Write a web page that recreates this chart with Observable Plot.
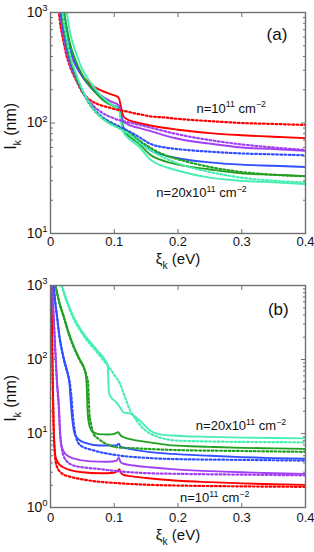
<!DOCTYPE html>
<html><head><meta charset="utf-8">
<script src="https://cdn.jsdelivr.net/npm/d3@7"></script>
<script src="https://cdn.jsdelivr.net/npm/@observablehq/plot@0.6"></script>
<style>
html,body{margin:0;padding:0;background:#fff;}
body{width:314px;height:552px;overflow:hidden;font-family:"Liberation Sans",Arial,Helvetica,sans-serif;}
svg{display:block;}
</style></head><body><div id="chart"></div>
<script>
// ---------- shared ----------
const seriesNames = ["n=1", "n=5", "n=10", "n=15", "n=20"];
const seriesColors = ["#ff0000", "#a23ff2", "#3050ff", "#22a022", "#48efb2"];
const xTicks = [0, 0.1, 0.2, 0.3, 0.4];
const xTickLabels = ["0", "0.1", "0.2", "0.3", "0.4"];

// ---------- panel (a) ----------
const xA = [0.012, 0.014, 0.016, 0.018, 0.02, 0.025, 0.03, 0.04, 0.05, 0.06, 0.07, 0.08, 0.09, 0.1, 0.105, 0.108, 0.111, 0.114, 0.12, 0.13, 0.14, 0.156, 0.18, 0.2, 0.25, 0.3, 0.35, 0.4];
const aRedSolid    = [1800,1300,1000,850,720,540,440,330,265,232,210,196,186,178,173,163,136,116,108,103,99.5,95,90,87,81,77.5,75,73];
const aRedDot      = [1150,900,740,640,560,410,330,245,190,165,152,144,139,134,132,131,130,129,127,123,120,115,112,109,104,100,98,96];
const aPurpleSolid = [2200,1700,1300,1050,880,610,460,330,262,222,196,176,162,152,148,141,118,104,98,93,90,85,77,72,65,60,58,56];
const aPurpleDot   = [1400,1100,900,760,640,450,350,250,195,160,138,125,116,110,107,106,105,104,102,99,96,91,84,79,70,64,60,57];
const aBlueSolid   = [2600,2000,1550,1250,1020,680,500,340,265,220,190,168,153,143,139,132,110,92,84,76,68,57,51,48,44,42,41,40];
const aBlueDot     = [1600,1250,1000,850,720,500,380,260,195,155,130,115,105,98,95,93,91,89,86,80,74,65,60,58,55,53,52,51];
const aGreenSolid  = [3000,2300,1800,1450,1180,760,540,360,272,222,190,166,150,141,137,130,105,88,79,71,64,52,45,42,38,35,34,33];
const aGreenDot    = [1800,1400,1150,950,800,540,400,265,195,152,127,112,102,95,92,90,88,86,83,76,69,60,51,47,40,36,34,33];
const aAquaSolid   = [3600,2800,2200,1750,1450,1050,690,430,305,245,205,175,155,142,137,128,100,84,75,67,60,47,40,37,32,30,29,28];
const aAquaDot     = [2200,1700,1350,1100,900,600,430,280,200,155,128,112,101,94,91,89,87,85,82,74,66,57,48,43,36,32,30,29];
const yTicksA = [10, 100, 1000];
const yTickLabelsA = ["10^{1}", "10^{2}", "10^{3}"];
const yMinorA = [20,30,40,50,60,70,80,90,200,300,400,500,600,700,800,900];
const notesA = [
  {x: 0.229, y: 124, text: "n=10^{11} cm^{\u22122}"},
  {x: 0.166, y: 21.2, text: "n=20x10^{11} cm^{\u22122}"}
];
const tagA = [{x: 0.339, y: 565, text: "(a)"}];

// ---------- panel (b) ----------
const bRedSolidX    = [0.0015,0.002,0.003,0.004,0.005,0.006,0.0078,0.01,0.0156,0.02,0.031,0.05,0.078,0.1,0.105,0.108,0.111,0.115,0.125,0.15,0.2,0.25,0.3,0.35,0.4];
const bRedSolidY    = [1000,500,100,30,12,7.5,4.9,4.3,3.7,3.5,3.2,3.0,2.9,2.95,3.1,3.3,2.9,2.75,2.65,2.5,2.3,2.2,2.12,2.06,2.02];
const bRedDotX      = [0.0015,0.002,0.003,0.004,0.005,0.006,0.0078,0.01,0.0156,0.02,0.031,0.05,0.078,0.1,0.15,0.2,0.3,0.4];
const bRedDotY      = [1000,500,100,30,11,6.5,4.3,3.6,3.0,2.8,2.6,2.4,2.22,2.15,2.03,1.98,1.93,1.9];
const bPurpleSolidX = [0.0026,0.004,0.006,0.008,0.0104,0.013,0.0145,0.0156,0.018,0.023,0.036,0.0625,0.09,0.104,0.107,0.11,0.115,0.13,0.156,0.19,0.25,0.3,0.35,0.4];
const bPurpleSolidY = [1000,550,250,110,47,25,13,8.5,6.5,5.3,4.6,4.2,4.15,4.3,4.7,4.1,3.9,3.7,3.5,3.3,3.1,3.0,2.9,2.85];
const bPurpleDotX   = [0.0026,0.004,0.006,0.008,0.0104,0.013,0.0145,0.0156,0.018,0.023,0.036,0.05,0.078,0.104,0.156,0.2,0.3,0.4];
const bPurpleDotY   = [1000,550,250,110,45,22,12,9,6,4.5,3.7,3.5,3.3,3.1,2.9,2.85,2.78,2.72];
const bBlueSolidX   = [0.005,0.007,0.0104,0.014,0.018,0.022,0.026,0.03,0.032,0.034,0.039,0.052,0.078,0.104,0.107,0.11,0.12,0.156,0.19,0.25,0.3,0.35,0.4];
const bBlueSolidY   = [1000,650,378,210,134,95,71,45,25,16,9.4,7.6,6.9,6.9,7.3,6.6,6.3,5.6,5.3,5.0,4.8,4.65,4.55];
const bBlueDotX     = [0.005,0.007,0.0104,0.014,0.018,0.022,0.026,0.03,0.033,0.035,0.0365,0.04,0.047,0.068,0.104,0.156,0.2,0.3,0.4];
const bBlueDotY     = [1000,650,370,200,130,90,68,50,30,18,13.6,9,6.9,5.9,5.1,4.65,4.5,4.4,4.3];
const bGreenSolidX  = [0.008,0.013,0.021,0.029,0.039,0.046,0.052,0.0555,0.057,0.058,0.06,0.065,0.075,0.09,0.1,0.106,0.11,0.115,0.13,0.156,0.19,0.25,0.3,0.35,0.4];
const bGreenSolidY  = [1000,630,378,224,134,100,80,62,40,22,14,10.8,9.8,9.7,9.9,10.4,9.4,8.9,8.2,7.6,6.9,6.6,6.4,6.3,6.2];
const bGreenDotX    = [0.008,0.013,0.021,0.029,0.039,0.046,0.052,0.056,0.059,0.06,0.061,0.064,0.067,0.075,0.083,0.105,0.135,0.19,0.3,0.4];
const bGreenDotY    = [1000,620,370,215,130,97,78,62,48,30,18.6,13,10,8.5,7.6,6.5,6.3,6.0,5.8,5.65];
const bAquaSolidX   = [0.018,0.025,0.036,0.052,0.073,0.085,0.0898,0.0905,0.0915,0.095,0.1,0.105,0.11,0.115,0.125,0.14,0.156,0.17,0.19,0.25,0.3,0.35,0.4];
const bAquaSolidY   = [1000,650,378,224,134,100,84,60,36,30.6,28,25.4,21.8,19.2,18.6,15,11,9.8,9.4,9.0,8.8,8.7,8.6];
const bAquaDotX     = [0.017,0.025,0.036,0.052,0.073,0.09,0.095,0.1,0.109,0.117,0.125,0.135,0.156,0.2,0.25,0.3,0.4];
const bAquaDotY     = [1000,620,360,210,125,82,72,62,47,30.6,20.5,15,10,8.0,7.8,7.7,7.6];
const yTicksB = [1, 10, 100, 1000];
const yTickLabelsB = ["10^{0}", "10^{1}", "10^{2}", "10^{3}"];
const yMinorB = [2,3,4,5,6,7,8,9,20,30,40,50,60,70,80,90,200,300,400,500,600,700,800,900];
const notesB = [
  {x: 0.228, y: 11, text: "n=20x10^{11} cm^{\u22122}"},
  {x: 0.203, y: 1.17, text: "n=10^{11} cm^{\u22122}"}
];
const tagB = [{x: 0.341, y: 400, text: "(b)"}];

// ---------- helpers ----------
const FONT = '"Liberation Sans", Arial, Helvetica, sans-serif';
const AX = "#707070";

function rows(list) {
  const out = [];
  list.forEach(([xs, ys, idx]) => {
    xs.forEach((x, i) => out.push({x, y: ys[i], key: seriesNames[idx], color: seriesColors[idx]}));
  });
  return out;
}

function applyMarkup(svg) {
  d3.select(svg).selectAll("text").each(function () {
    const t = this.textContent;
    if (!/[\^_]\{/.test(t)) return;
    const fs = parseFloat(getComputedStyle(this).fontSize) || 12;
    const parts = [];
    const re = /([\^_])\{([^}]*)\}/g;
    let last = 0, m;
    while ((m = re.exec(t))) {
      if (m.index > last) parts.push({s: t.slice(last, m.index), k: 0});
      parts.push({s: m[2], k: m[1] === "^" ? 1 : -1});
      last = re.lastIndex;
    }
    if (last < t.length) parts.push({s: t.slice(last), k: 0});
    while (this.firstChild) this.removeChild(this.firstChild);
    let cur = 0;
    for (const p of parts) {
      const ts = document.createElementNS("http://www.w3.org/2000/svg", "tspan");
      const target = p.k === 1 ? fs * 0.42 : p.k === -1 ? -fs * 0.32 : 0;
      ts.setAttribute("dy", (cur - target).toFixed(2));
      cur = target;
      if (p.k) ts.setAttribute("font-size", (fs * 0.68).toFixed(1));
      ts.textContent = p.s;
      this.appendChild(ts);
    }
  });
}

function panel({solid, dotted, yDomain, yTicks, yTickLabels, yMinor, height, marginTop, marginBottom, tickPad, notes, tag}) {
  const fmtY = d => yTickLabels[yTicks.indexOf(d)];
  const fmtX = d => xTickLabels[xTicks.indexOf(d)];
  const blank = () => "";
  return Plot.plot({
    width: 314, height, marginTop, marginBottom, marginLeft: 50, marginRight: 9,
    style: {fontFamily: FONT, background: "white", overflow: "visible"},
    x: {domain: [0, 0.4]},
    y: {type: "log", domain: yDomain},
    marks: [
      Plot.line(rows(solid), {x: "x", y: "y", z: "key", stroke: "color", strokeWidth: 1.9, curve: "monotone-x", clip: true}),
      Plot.line(rows(dotted), {x: "x", y: "y", z: "key", stroke: "color", strokeWidth: 2.2, strokeDasharray: "1.8,2.4", curve: "monotone-x", clip: true}),
      Plot.frame({stroke: AX, strokeWidth: 1.4}),
      Plot.axisX(xTicks, {anchor: "bottom", tickSize: 4, insetBottom: 4, tickFormat: blank, stroke: AX, label: null}),
      Plot.axisX(xTicks, {anchor: "top", tickSize: 4, insetTop: 4, tickFormat: blank, stroke: AX, label: null}),
      Plot.axisY(yTicks, {anchor: "left", tickSize: 5, insetLeft: 5, tickFormat: blank, stroke: AX, label: null}),
      Plot.axisY(yTicks, {anchor: "right", tickSize: 5, insetRight: 5, tickFormat: blank, stroke: AX, label: null}),
      Plot.axisY(yMinor, {anchor: "left", tickSize: 3, insetLeft: 3, tickFormat: blank, stroke: AX, label: null}),
      Plot.axisY(yMinor, {anchor: "right", tickSize: 3, insetRight: 3, tickFormat: blank, stroke: AX, label: null}),
      Plot.axisX(xTicks, {anchor: "bottom", tickSize: 0, tickPadding: tickPad, tickFormat: fmtX, fontSize: 13, label: null, fill: "#111"}),
      Plot.axisY(yTicks, {anchor: "left", tickSize: 0, tickPadding: 3, tickFormat: fmtY, fontSize: 14, label: null, fill: "#111"}),
      Plot.text(notes, {x: "x", y: "y", text: "text", textAnchor: "start", lineAnchor: "bottom", fontSize: 13, fill: "#111"}),
      Plot.text(tag, {x: "x", y: "y", text: "text", textAnchor: "start", lineAnchor: "bottom", fontSize: 17, fill: "#111"})
    ]
  });
}

function addLabels(svg, {xlabelY, ylabelY}) {
  const s = d3.select(svg);
  s.append("text").attr("x", 178).attr("y", xlabelY).attr("text-anchor", "middle")
    .attr("font-size", 15).attr("font-family", FONT).attr("fill", "#111").text("\u03be_{k} (eV)");
  s.append("text").attr("transform", `translate(16,${ylabelY}) rotate(-90)`).attr("text-anchor", "middle")
    .attr("font-size", 16).attr("font-family", FONT).attr("fill", "#111").text("l_{k} (nm)");
}

const chart = document.getElementById("chart");

const svgA = panel({
  solid: [[xA, aRedSolid, 0], [xA, aPurpleSolid, 1], [xA, aBlueSolid, 2], [xA, aGreenSolid, 3], [xA, aAquaSolid, 4]],
  dotted: [[xA, aRedDot, 0], [xA, aPurpleDot, 1], [xA, aBlueDot, 2], [xA, aGreenDot, 3], [xA, aAquaDot, 4]],
  yDomain: [10, 1000], yTicks: yTicksA, yTickLabels: yTickLabelsA, yMinor: yMinorA,
  height: 270, marginTop: 12, marginBottom: 37, tickPad: 3, notes: notesA, tag: tagA
});
chart.appendChild(svgA);
addLabels(svgA, {xlabelY: 264, ylabelY: 126});
applyMarkup(svgA);

const svgB = panel({
  solid: [[bRedSolidX, bRedSolidY, 0], [bPurpleSolidX, bPurpleSolidY, 1], [bBlueSolidX, bBlueSolidY, 2], [bGreenSolidX, bGreenSolidY, 3], [bAquaSolidX, bAquaSolidY, 4]],
  dotted: [[bRedDotX, bRedDotY, 0], [bPurpleDotX, bPurpleDotY, 1], [bBlueDotX, bBlueDotY, 2], [bGreenDotX, bGreenDotY, 3], [bAquaDotX, bAquaDotY, 4]],
  yDomain: [1, 1000], yTicks: yTicksB, yTickLabels: yTickLabelsB, yMinor: yMinorB,
  height: 282, marginTop: 15, marginBottom: 45, tickPad: 5, notes: notesB, tag: tagB
});
chart.appendChild(svgB);
addLabels(svgB, {xlabelY: 270, ylabelY: 128});
applyMarkup(svgB);
</script>
</body></html>
